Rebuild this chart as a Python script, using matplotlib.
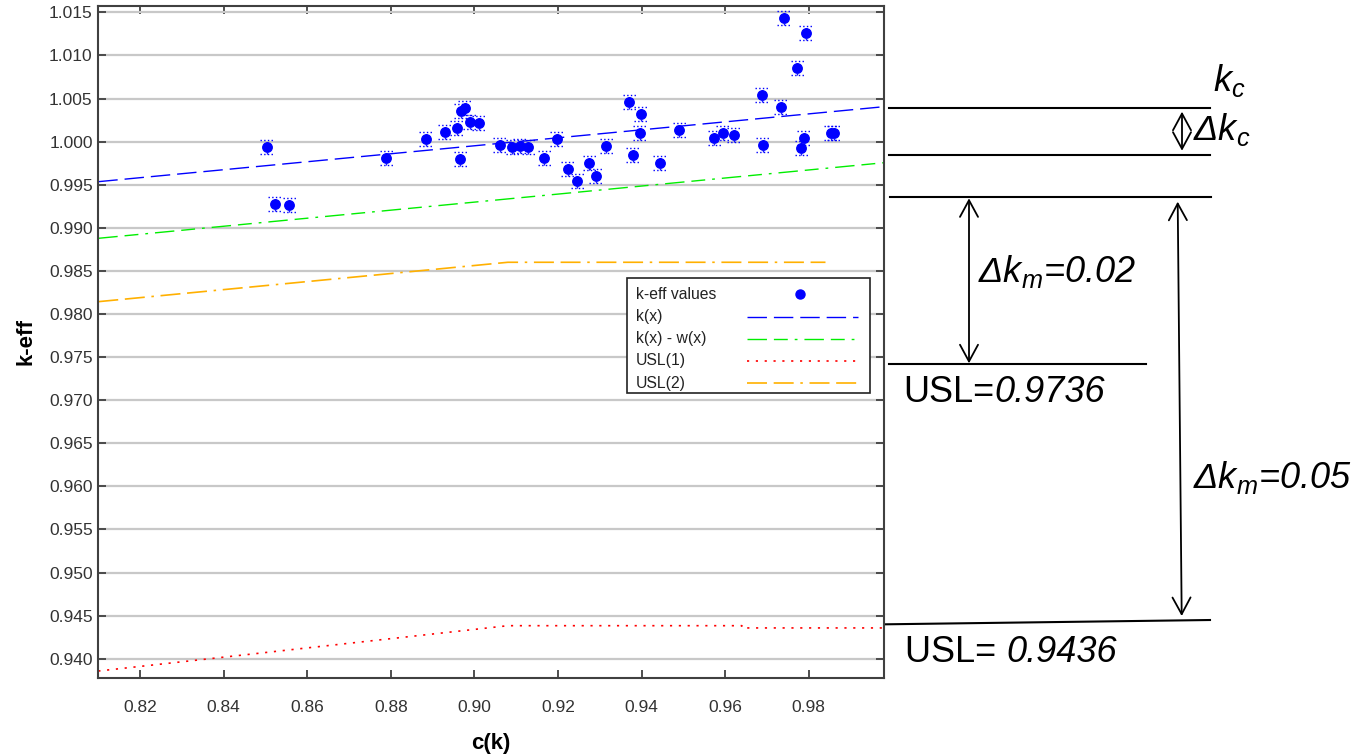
import matplotlib
matplotlib.use("Agg")
import matplotlib.pyplot as plt
from matplotlib.transforms import Affine2D, blended_transform_factory
from matplotlib.lines import Line2D
from matplotlib.patches import Rectangle
import numpy as np

# ---------------- data ----------------
cx = [0.8504, 0.8523, 0.8557, 0.8789, 0.8884, 0.8930, 0.8958, 0.8967, 0.8977, 0.8966,
      0.8989, 0.9011, 0.9061, 0.9091, 0.9109, 0.9129, 0.9167, 0.9198, 0.9224, 0.9246,
      0.9275, 0.9291, 0.9316, 0.9371, 0.9379, 0.9399, 0.9395, 0.9443, 0.9490, 0.9574,
      0.9595, 0.9621, 0.9688, 0.9690, 0.9733, 0.9741, 0.9773, 0.9793, 0.9789, 0.9782,
      0.9852, 0.9860]
keff = [0.99941, 0.99276, 0.99264, 0.99810, 1.00027, 1.00115, 1.00154, 1.00355, 1.00386, 0.99795,
        1.00231, 1.00219, 0.99960, 0.99937, 0.99952, 0.99941, 0.99813, 1.00027, 0.99682, 0.99539,
        0.99752, 0.99604, 0.99945, 1.00463, 0.99848, 1.00317, 1.00103, 0.99752, 1.00138, 1.00042,
        1.00103, 1.00076, 1.00544, 0.99957, 1.00401, 1.01434, 1.00850, 1.01256, 1.00046, 0.99926,
        1.00103, 1.00103]
keff_err = 0.0008

fit_x = [0.810, 0.998]
k_fit = [0.99535, 1.00405]
kw_fit = [0.98878, 0.99755]

usl1_x = [0.810, 0.908, 0.964, 0.964, 0.998]
usl1_y = [0.93858, 0.94384, 0.94384, 0.94358, 0.94358]
usl2_x = [0.810, 0.908, 0.984]
usl2_y = [0.98143, 0.98600, 0.98600]

xticks = [0.82, 0.84, 0.86, 0.88, 0.90, 0.92, 0.94, 0.96, 0.98]
yticks = [0.940, 0.945, 0.950, 0.955, 0.960, 0.965, 0.970, 0.975,
          0.980, 0.985, 0.990, 0.995, 1.000, 1.005, 1.010, 1.015]

legend_labels = ["k-eff values", "k(x)", "k(x) - w(x)", "USL(1)", "USL(2)"]

# annotation levels (data units)
kc_level = 1.0039
kc_lower = 0.9984
kc_margin = 0.9936
usl1_level = 0.9742
usl2_level = (0.9440, 0.9445)

# ---------------- style ----------------
plt.rcParams['mathtext.fontset'] = 'custom'
plt.rcParams['mathtext.it'] = 'Liberation Sans:italic'
plt.rcParams['mathtext.rm'] = 'Liberation Sans'
plt.rcParams['font.family'] = ['Liberation Sans', 'DejaVu Sans']

W, H = 1352, 756
fig = plt.figure(figsize=(W / 100, H / 100), dpi=100)
AX_L, AX_B, AX_W, AX_H = 98.3, 677.7, 785.7, 672.2
ax = fig.add_axes([AX_L / W, 1 - AX_B / H, AX_W / W, AX_H / H])

spine_c = '#404040'
for s in ax.spines.values():
    s.set_color(spine_c)
    s.set_linewidth(1.5)

blue = '#0000ff'
green = '#00ee00'
red = '#ff0000'
orange = '#ffb000'

styles = [
    dict(color=blue, lw=1.0, dashes=(14, 5)),
    dict(color=green, lw=1.0, dashes=(14, 5, 10, 5, 2, 5)),
    dict(color=red, lw=1.2, dashes=(1.3, 4.0)),
    dict(color=orange, lw=1.2, dashes=(12, 4, 12, 4, 1.5, 4)),
]

cxa = np.array(cx)
ka = np.array(keff)
ax.vlines(cxa, ka - keff_err, ka + keff_err, colors=blue, linestyles=':', lw=1.0, zorder=3)
ax.hlines(ka + keff_err, cxa - 0.0016, cxa + 0.0016, colors=blue, linestyles=':', lw=1.0, zorder=3)
ax.hlines(ka - keff_err, cxa - 0.0016, cxa + 0.0016, colors=blue, linestyles=':', lw=1.0, zorder=3)
ax.plot(cx, keff, 'o', color=blue, ms=6.8, zorder=4)
ax.plot(fit_x, k_fit, **styles[0])
ax.plot(fit_x, kw_fit, **styles[1])
ax.plot(usl1_x, usl1_y, **styles[2])
ax.plot(usl2_x, usl2_y, **styles[3])

ax.set_xlim(0.810, 0.998)
ax.set_ylim(0.937807, 1.015789)
ax.set_xticks(xticks)
ax.set_xticklabels([f"{v:.2f}" for v in xticks])
ax.set_yticks(yticks)
ax.set_yticklabels([f"{v:.3f}" for v in yticks])
ax.yaxis.grid(True, color='#c8c8c8', lw=1.6)
ax.set_axisbelow(True)

ax.tick_params(axis='both', direction='in', length=6, width=1.3, color=spine_c,
               top=True, right=True, labelcolor='#333333', labelsize=12.5)
ax.tick_params(axis='x', pad=16)
ax.tick_params(axis='y', pad=4)

ax.set_xlabel("c(k)", fontsize=16, fontweight='bold', labelpad=13)
ax.set_ylabel("k-eff", fontsize=16, fontweight='bold', labelpad=9)


# ---------------- legend (text left, handle right) ----------------
def fx(px):
    return (px - AX_L) / AX_W


def fy(py):
    return (AX_B - py) / AX_H


ax.add_patch(Rectangle((fx(626.7), fy(393.3)), fx(870) - fx(626.7), fy(278.3) - fy(393.3),
                       transform=ax.transAxes, facecolor='white', edgecolor='#222222',
                       lw=1.2, clip_on=False, zorder=6))
rows = [294.3, 316.7, 339.0, 361.0, 383.3]
for lab, ry in zip(legend_labels, rows):
    ax.text(fx(636), fy(ry), lab, transform=ax.transAxes, fontsize=11.3,
            va='center', ha='left', color='#222222', zorder=7)
ax.add_line(Line2D([fx(800)], [fy(rows[0])], marker='o', ms=6.5, color=blue,
                   linestyle='none', transform=ax.transAxes, clip_on=False, zorder=7))
for st, ry in zip(styles, rows[1:]):
    ax.add_line(Line2D([fx(746.7), fx(858.3)], [fy(ry), fy(ry)], transform=ax.transAxes,
                       clip_on=False, zorder=7, **st))

# ---------------- right-side annotation ----------------
bt = blended_transform_factory(ax.transAxes, ax.transData)

lk = dict(color='black', lw=1.5, clip_on=False, transform=bt)
ax.add_line(Line2D([fx(889), fx(1210)], [kc_level, kc_level], **lk))
ax.add_line(Line2D([fx(889), fx(1210)], [kc_lower, kc_lower], **lk))
ax.add_line(Line2D([fx(890), fx(1211)], [kc_margin, kc_margin], **lk))
ax.add_line(Line2D([fx(889), fx(1146)], [usl1_level, usl1_level], **lk))
ax.add_line(Line2D([fx(885), fx(1210)], [usl2_level[0], usl2_level[1]], **lk))

ap = dict(arrowstyle='<->,head_length=1.2,head_width=0.65', mutation_scale=10,
          lw=1.3, color='black', shrinkA=0, shrinkB=0)
ax.annotate('', xy=(fx(1182), 0.99894), xytext=(fx(1182), 1.00347),
            xycoords=bt, textcoords=bt, arrowprops=ap, annotation_clip=False)
ax.annotate('', xy=(fx(969), 0.97428), xytext=(fx(969), 0.99342),
            xycoords=bt, textcoords=bt, arrowprops=ap, annotation_clip=False)
ax.annotate('', xy=(fx(1181.7), 0.94496), xytext=(fx(1177.7), 0.99303),
            xycoords=bt, textcoords=bt, arrowprops=ap, annotation_clip=False)

pix = Affine2D().scale(1 / W, -1 / H).translate(0, 1) + fig.transFigure
fs = 26
fig.text(1213, 90.7, r'$k_c$', fontsize=fs, transform=pix, va='baseline', ha='left')
fig.text(1193, 140, r'Δ$k_c$', fontsize=fs, style='italic', transform=pix,
         va='baseline', ha='left')
fig.text(978, 281.7, r'Δ$k_m$=0.02', fontsize=fs, style='italic', transform=pix,
         va='baseline', ha='left')
fig.text(1193, 488.3, r'Δ$k_m$=0.05', fontsize=fs, style='italic', transform=pix,
         va='baseline', ha='left')
t1 = fig.text(903, 401.7, 'USL=', fontsize=fs, transform=pix, va='baseline', ha='left')
ax.annotate('0.9736', xy=(1, 0), xycoords=t1, va='bottom', ha='left',
            fontsize=fs, style='italic', annotation_clip=False)
t2 = fig.text(905, 661.7, 'USL= ', fontsize=fs, transform=pix, va='baseline', ha='left')
ax.annotate('0.9436', xy=(1, 0), xycoords=t2, va='bottom', ha='left',
            fontsize=fs, style='italic', annotation_clip=False)

fig.savefig('out.png', dpi=100)
